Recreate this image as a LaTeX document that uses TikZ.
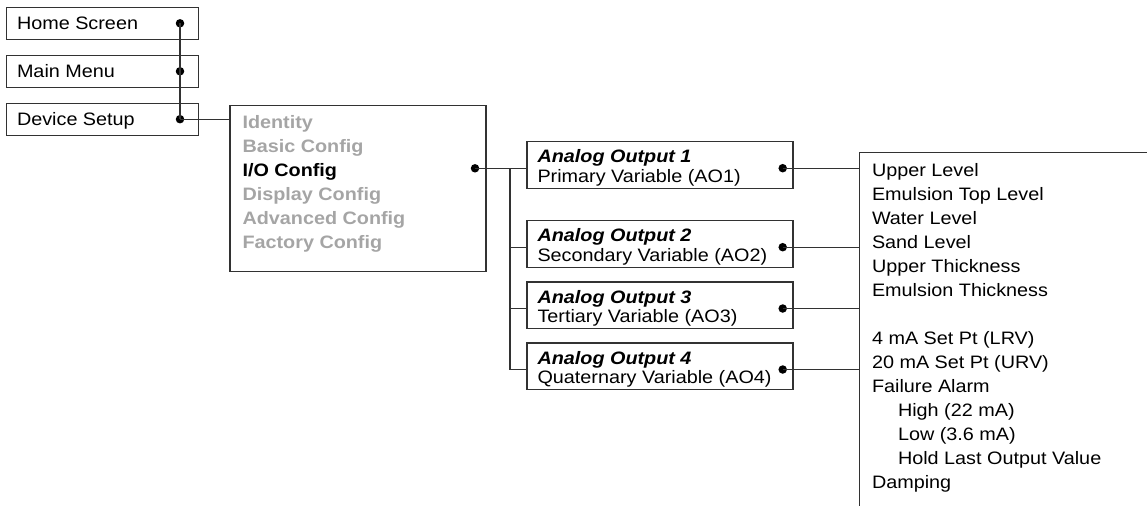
\documentclass[tikz,border=0pt]{standalone}
\usepackage{fontspec}
\setmainfont[FakeStretch=1.1]{Liberation Sans}
\definecolor{menugray}{RGB}{165,165,165}
\definecolor{linegray}{RGB}{50,50,50}
\begin{document}
\begin{tikzpicture}[x=1pt,y=-1pt,
  every node/.style={inner sep=0pt,outer sep=0pt},
  txt/.style={anchor=base west,font=\fontsize{18}{24}\selectfont},
  boldtxt/.style={txt,font=\fontsize{18}{24}\selectfont\bfseries},
  headtxt/.style={txt,font=\fontsize{18}{24}\selectfont\bfseries\itshape},
  menubox/.style={draw=linegray,line width=1.1pt,rectangle,anchor=north west},
  dot/.style={circle,fill=black,minimum size=8.5pt},
  wire/.style={draw=linegray,line width=1.1pt}
]
\useasboundingbox (0,0) rectangle (1147,506);

% ---- top-level navigation chain ----
\node[menubox,minimum width=192pt,minimum height=32pt] (home) at (6.3,7.3) {};
\node[menubox,minimum width=192pt,minimum height=32pt] (main) at (6.3,55.5) {};
\node[menubox,minimum width=192pt,minimum height=32pt] (setup) at (6.3,103.3) {};
\node[txt] (homet) at (17,29.5) {Home Screen};
\node[txt] (maint) at (17,77.5) {Main Menu};
\node[txt] (setupt) at (17,125.5) {Device Setup};
\node[dot] (homed) at (180,23.3) {};
\node[dot] (maind) at (180,71.3) {};
\node[dot] (setupd) at (180,119.2) {};
\draw[wire] (homed.center) -- (maind.center) -- (setupd.center);

% ---- Device Setup submenu ----
\node[menubox,minimum width=256pt,minimum height=166pt] (devmenu) at (230,105.7) {};
\draw[wire] (setupd.center) -- (devmenu.west |- setupd.center);
\node[boldtxt,text=menugray] (identity) at (242.5,128.5) {Identity};
\node[boldtxt,text=menugray] (basic) at (242.5,152.5) {Basic Config};
\node[boldtxt] (ioconf) at (242.5,176.5) {I/O Config};
\node[boldtxt,text=menugray] (display) at (242.5,200.5) {Display Config};
\node[boldtxt,text=menugray] (advanced) at (242.5,224.5) {Advanced Config};
\node[boldtxt,text=menugray] (factory) at (242.5,248.5) {Factory Config};
\node[dot] (iod) at (475,168.3) {};

% ---- analog output boxes ----
\foreach \i/\top/\var in {1/141.7/Primary Variable (AO1),
                          2/220.7/Secondary Variable (AO2),
                          3/282/Tertiary Variable (AO3),
                          4/343/Quaternary Variable (AO4)} {
  \node[menubox,minimum width=266pt,minimum height=46.5pt] (ao\i) at (527,\top) {};
  \node[headtxt] (ao\i h) at (537.5,\top+21) {Analog Output \i};
  \node[txt] (ao\i v) at (537.5,\top+40.5) {\var};
  \node[dot] (ao\i d) at (782.7,\top+26.5) {};
}
\coordinate (bus) at (510,168.3);
\draw[wire] (iod.center) -- (ao1.west |- iod.center);
\draw[wire] (bus) -- (bus |- ao4d.center) -- (ao4.west |- ao4d.center);
\draw[wire] (bus |- ao2d.center) -- (ao2.west |- ao2d.center);
\draw[wire] (bus |- ao3d.center) -- (ao3.west |- ao3d.center);

% ---- variable list panel (open at right and bottom) ----
\coordinate (panel) at (859.3,152.7);
\coordinate (panelend) at (1147,152.7);
\coordinate (panelbot) at (859.3,506);
\draw[wire] (panelend) -- (panel) -- (panelbot);
\foreach \i in {1,...,4} {
  \draw[wire] (ao\i d.center) -- (panel |- ao\i d.center);
}
\node[txt] (p1) at (872,176) {Upper Level};
\node[txt] (p2) at (872,200) {Emulsion Top Level};
\node[txt] (p3) at (872,224) {Water Level};
\node[txt] (p4) at (872,248) {Sand Level};
\node[txt] (p5) at (872,272) {Upper Thickness};
\node[txt] (p6) at (872,296) {Emulsion Thickness};
\node[txt] (p7) at (872,344) {4 mA Set Pt (LRV)};
\node[txt] (p8) at (872,368) {20 mA Set Pt (URV)};
\node[txt] (p9) at (872,392) {Failure Alarm};
\node[txt] (p10) at (898,416) {High (22 mA)};
\node[txt] (p11) at (898,440) {Low (3.6 mA)};
\node[txt] (p12) at (898,464) {Hold Last Output Value};
\node[txt] (p13) at (872,488) {Damping};
\end{tikzpicture}
\end{document}
